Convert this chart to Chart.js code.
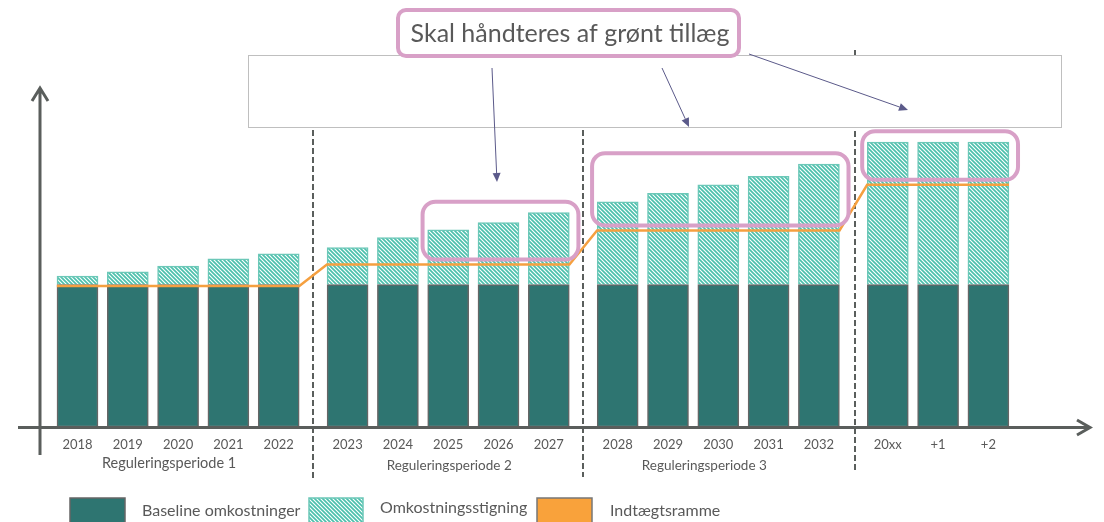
<!DOCTYPE html>
<html>
<head>
<meta charset="utf-8">
<script src="https://cdn.jsdelivr.net/npm/chart.js@4.4.1/dist/chart.umd.min.js"></script>
<style>
  html, body { margin: 0; padding: 0; background: #fff; }
  canvas { display: block; }
</style>
</head>
<body>
<canvas id="costChart" width="1104" height="522"></canvas>
<script>
const categories = ['2018', '2019', '2020', '2021', '2022', '2023', '2024', '2025', '2026', '2027',
                    '2028', '2029', '2030', '2031', '2032', '20xx', '+1', '+2'];
const periodOf = [0, 0, 0, 0, 0, 1, 1, 1, 1, 1, 2, 2, 2, 2, 2, 3, 3, 3];
const periodLabels = ['Reguleringsperiode 1', 'Reguleringsperiode 2', 'Reguleringsperiode 3'];
const baselineCost = [100, 100, 100, 100, 100, 100, 100, 100, 100, 100, 100, 100, 100, 100, 100, 100, 100, 100];
const costIncrease = [6, 9, 13, 18, 21.5, 26, 33, 38.5, 43.5, 50.5, 58, 64, 70, 76, 84.5, 100, 100, 100];
const revenueCap = [99, 114, 138, 170];          // one level per period
const flaggedRanges = [[7, 9], [10, 14], [15, 17]]; // bars marked for the green supplement

const GROUP_GAP = 0.37;   // extra space between periods, in bar slots
const HALF_BAR = 0.41;
const slot = i => i + GROUP_GAP * periodOf[i];

const GREY = '#5a5e5c';
const TEXT = '#595959';
const PINK = '#d8a0c7';
const ARROW = '#5b5a8a';
const FONT = 'Lato, "Open Sans", sans-serif';

function hatch() {
  const tile = document.createElement('canvas');
  tile.width = tile.height = 4;
  const t = tile.getContext('2d');
  t.fillStyle = '#fff';
  t.fillRect(0, 0, 4, 4);
  t.strokeStyle = '#4cc0ac';
  t.lineWidth = 1.7;
  t.beginPath();
  t.moveTo(-1, -1); t.lineTo(5, 5);
  t.moveTo(-1, 3); t.lineTo(1, 5);
  t.moveTo(3, -1); t.lineTo(5, 1);
  t.stroke();
  return t.createPattern(tile, 'repeat');
}

const ctx = document.getElementById('costChart').getContext('2d');
const hatchFill = hatch();

// revenue frame: flat across each period, ramping between them
const capLine = [];
revenueCap.forEach((v, p) => {
  const first = periodOf.indexOf(p);
  const last = periodOf.lastIndexOf(p);
  capLine.push({ x: slot(first) - HALF_BAR, y: v }, { x: slot(last) + HALF_BAR, y: v });
});

function roundRect(c, x, y, w, h, r) {
  c.beginPath();
  c.moveTo(x + r, y);
  c.arcTo(x + w, y, x + w, y + h, r);
  c.arcTo(x + w, y + h, x, y + h, r);
  c.arcTo(x, y + h, x, y, r);
  c.arcTo(x, y, x + w, y, r);
  c.closePath();
}

function arrow(c, x1, y1, x2, y2) {
  const a = Math.atan2(y2 - y1, x2 - x1);
  const len = 9, w = 4;
  c.strokeStyle = ARROW;
  c.fillStyle = ARROW;
  c.lineWidth = 1;
  c.beginPath();
  c.moveTo(x1, y1);
  c.lineTo(x2 - len * Math.cos(a), y2 - len * Math.sin(a));
  c.stroke();
  c.beginPath();
  c.moveTo(x2, y2);
  c.lineTo(x2 - len * Math.cos(a) + w * Math.sin(a), y2 - len * Math.sin(a) - w * Math.cos(a));
  c.lineTo(x2 - len * Math.cos(a) - w * Math.sin(a), y2 - len * Math.sin(a) + w * Math.cos(a));
  c.closePath();
  c.fill();
}

const overlay = {
  id: 'overlay',
  beforeDatasetsDraw(chart) {
    const c = chart.ctx;
    const x = chart.scales.x;
    c.save();
    // dashed separators between regulation periods
    c.strokeStyle = GREY;
    c.lineWidth = 2;
    c.setLineDash([6, 3]);
    const ends = [null, [130, 478], [130, 477], [50, 470]];
    for (let p = 1; p < 4; p++) {
      const f = periodOf.indexOf(p);
      const sx = Math.round((x.getPixelForValue(slot(f - 1)) + x.getPixelForValue(slot(f))) / 2) + (p === 3 ? 2 : 0);
      c.beginPath();
      c.moveTo(sx, ends[p][0]);
      c.lineTo(sx, ends[p][1]);
      c.stroke();
    }
    c.setLineDash([]);
    // empty frame under the callout
    c.fillStyle = '#fff';
    c.fillRect(248.5, 55.5, 813, 72);
    c.strokeStyle = '#bfbfbf';
    c.lineWidth = 1;
    c.strokeRect(248.5, 55.5, 813, 72);
    c.restore();
  },
  afterDatasetsDraw(chart) {
    const c = chart.ctx;
    const { x, y } = chart.scales;
    c.save();

    // axes with open arrow heads
    c.strokeStyle = GREY;
    c.lineWidth = 3;
    c.lineJoin = 'miter';
    c.beginPath();
    c.moveTo(40, 455); c.lineTo(40, 89);
    c.moveTo(32, 101); c.lineTo(40, 88); c.lineTo(48, 101);
    c.moveTo(18, 427.5); c.lineTo(1089, 427.5);
    c.moveTo(1077, 420); c.lineTo(1090, 427.5); c.lineTo(1077, 435);
    c.stroke();

    // pink frames round the flagged bars
    c.strokeStyle = PINK;
    c.lineWidth = 4;
    flaggedRanges.forEach(([a, b]) => {
      const left = x.getPixelForValue(slot(a) - HALF_BAR) - 5;
      const right = x.getPixelForValue(slot(b) + HALF_BAR) + 9;
      let peak = 0;
      for (let i = a; i <= b; i++) peak = Math.max(peak, baselineCost[i] + costIncrease[i]);
      const top = y.getPixelForValue(peak) - 11;
      const bottom = y.getPixelForValue(revenueCap[periodOf[a]]) - 5;
      roundRect(c, left, top, right - left, bottom - top, 13);
      c.stroke();
    });

    // arrows from the callout
    arrow(c, 492, 68, 497, 182);
    arrow(c, 662, 68, 689, 127);
    arrow(c, 749, 54, 908, 110);

    // callout
    roundRect(c, 398, 10, 341, 46, 8);
    c.fillStyle = '#fff';
    c.fill();
    c.strokeStyle = PINK;
    c.lineWidth = 4;
    c.stroke();
    c.fillStyle = TEXT;
    c.font = '25px ' + FONT;
    c.textAlign = 'center';
    c.textBaseline = 'alphabetic';
    c.fillText('Skal håndteres af grønt tillæg', 570, 42);

    // period names under the year labels
    const nudge = [-9, 1, -14];
    const sizes = [14.5, 13.5, 13.5];
    c.textBaseline = 'middle';
    periodLabels.forEach((label, p) => {
      const first = periodOf.indexOf(p);
      const last = periodOf.lastIndexOf(p);
      const cx = (x.getPixelForValue(slot(first)) + x.getPixelForValue(slot(last))) / 2 + nudge[p];
      c.font = sizes[p] + 'px ' + FONT;
      c.fillText(label, cx, p === 0 ? 463 : 466);
    });

    // legend
    c.lineWidth = 1.5;
    c.fillStyle = '#2e7571';
    c.fillRect(70, 498, 55, 30);
    c.strokeStyle = '#666';
    c.strokeRect(70, 498, 55, 30);
    c.fillStyle = hatchFill;
    c.fillRect(309, 498, 54, 30);
    c.strokeStyle = '#6cc8b8';
    c.strokeRect(309, 498, 54, 30);
    c.fillStyle = '#f9a23b';
    c.fillRect(537, 498, 55, 30);
    c.strokeStyle = '#777';
    c.strokeRect(537, 498, 55, 30);

    c.fillStyle = TEXT;
    c.font = '16px ' + FONT;
    c.textAlign = 'left';
    c.fillText('Baseline omkostninger', 142, 511);
    c.fillText('Omkostningsstigning', 380, 508);
    c.fillText('Indtægtsramme', 610, 511);

    c.restore();
  }
};

const barPoints = values => values.map((v, i) => ({ x: slot(i), y: v }));

new Chart(ctx, {
  type: 'bar',
  data: {
    datasets: [
      {
        label: 'Baseline omkostninger',
        data: barPoints(baselineCost),
        backgroundColor: '#2e7571',
        borderColor: '#666',
        borderWidth: 1.5,
        borderSkipped: false,
        barThickness: 41,
        order: 2
      },
      {
        label: 'Omkostningsstigning',
        data: barPoints(costIncrease),
        backgroundColor: hatchFill,
        borderColor: '#6cc8b8',
        borderWidth: 1.5,
        borderSkipped: 'start',
        barThickness: 41,
        order: 2
      },
      {
        type: 'line',
        label: 'Indtægtsramme',
        data: capLine,
        borderColor: '#f5a040',
        borderWidth: 2.5,
        pointRadius: 0,
        tension: 0,
        order: 0
      }
    ]
  },
  options: {
    responsive: false,
    animation: false,
    layout: {
      padding: { left: 40, right: 14, top: 88, bottom: 0 }
    },
    plugins: {
      legend: { display: false },
      tooltip: { enabled: false }
    },
    scales: {
      x: {
        type: 'linear',
        min: -0.7455,
        max: 20.13,
        offset: false,
        stacked: true,
        grid: { display: false },
        border: { display: false },
        afterFit: scale => { scale.height = 95; },
        afterBuildTicks: scale => { scale.ticks = categories.map((_, i) => ({ value: slot(i) })); },
        ticks: {
          autoSkip: false,
          maxRotation: 0,
          padding: 2,
          color: TEXT,
          font: { family: FONT, size: 13 },
          callback: (value, index) => categories[index]
        }
      },
      y: {
        display: false,
        stacked: true,
        min: 0,
        max: 238
      }
    }
  },
  plugins: [overlay]
});
</script>
</body>
</html>
